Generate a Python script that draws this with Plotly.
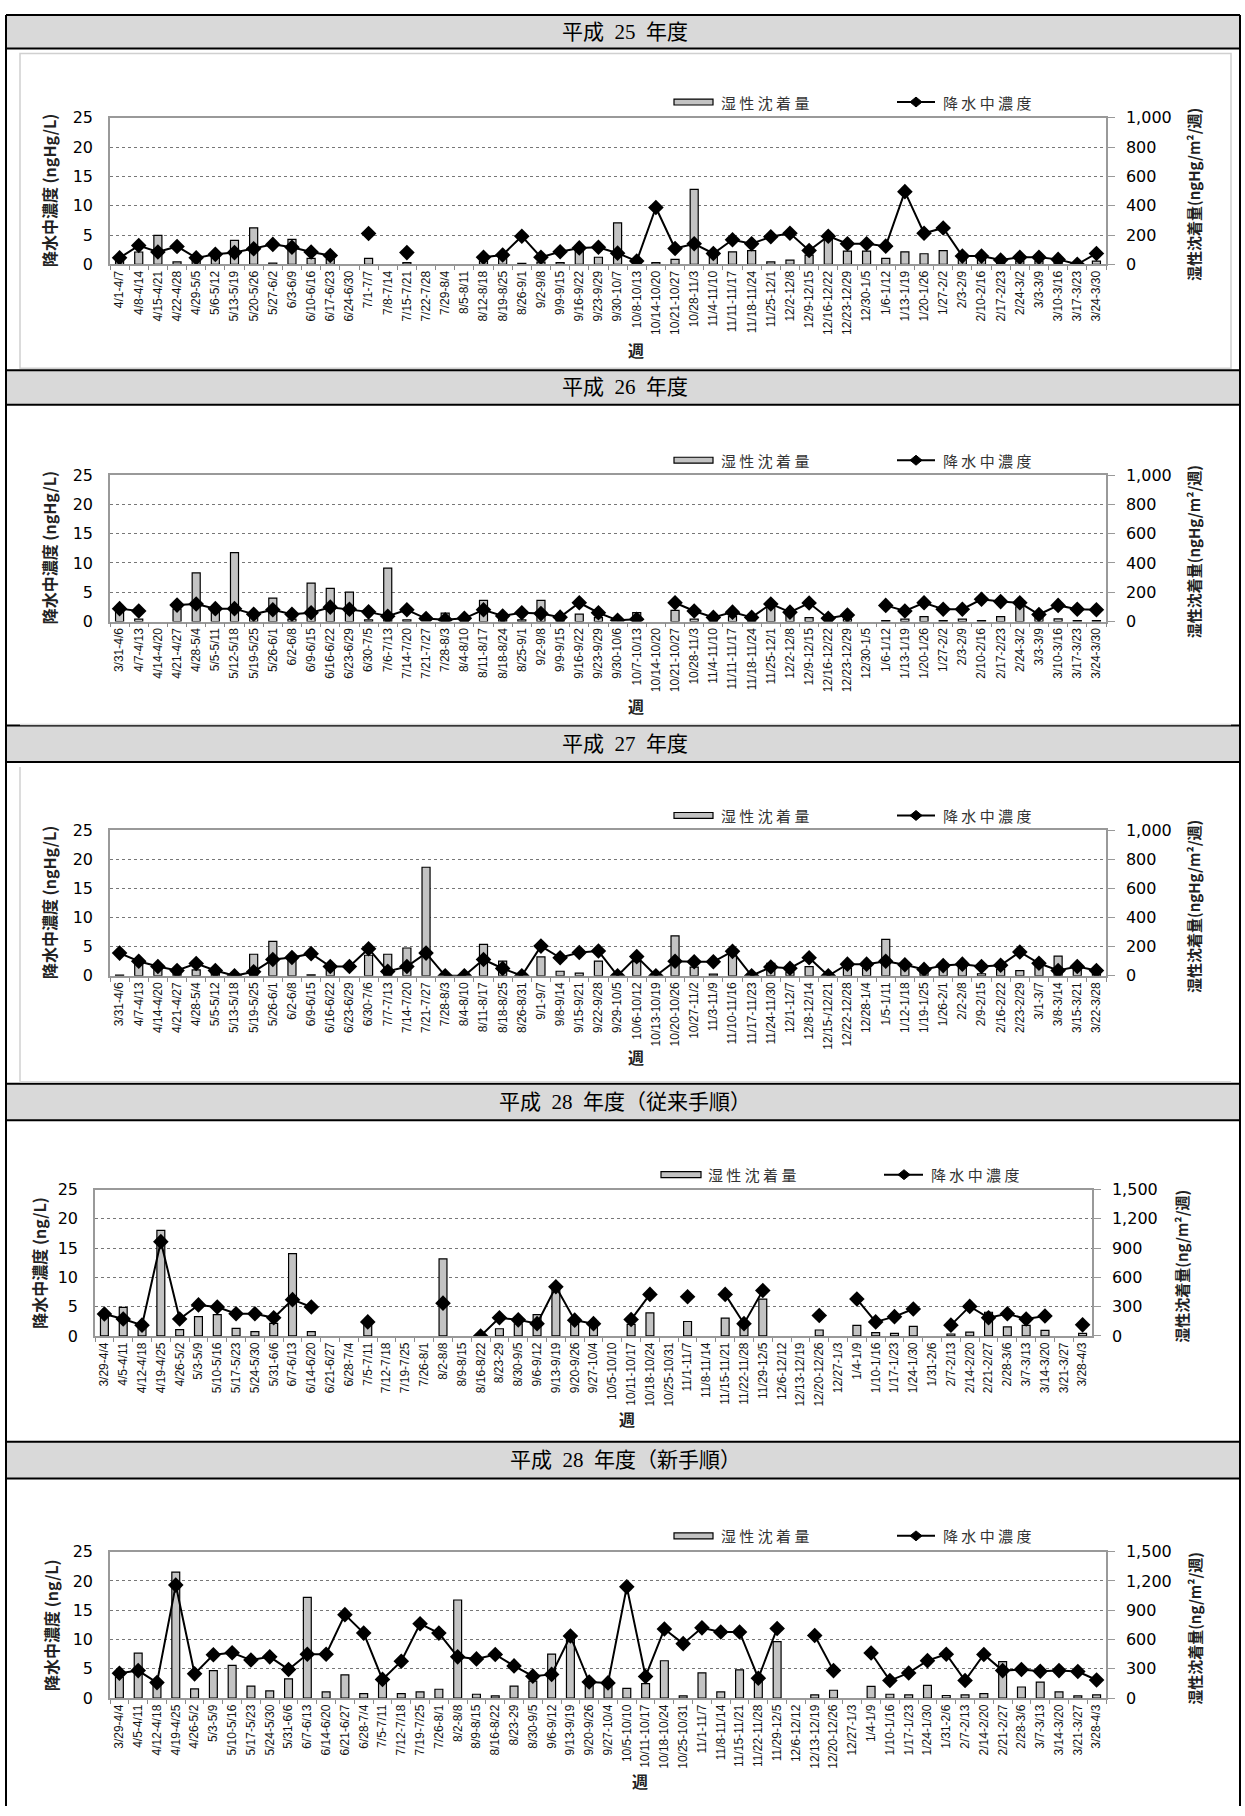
import plotly.graph_objects as go

W, H = 1245, 1816

# ---------------- data ----------------
weeks_h25 = ["4/1-4/7", "4/8-4/14", "4/15-4/21", "4/22-4/28", "4/29-5/5", "5/6-5/12", "5/13-5/19", "5/20-5/26",
             "5/27-6/2", "6/3-6/9", "6/10-6/16", "6/17-6/23", "6/24-6/30", "7/1-7/7", "7/8-7/14", "7/15-7/21",
             "7/22-7/28", "7/29-8/4", "8/5-8/11", "8/12-8/18", "8/19-8/25", "8/26-9/1", "9/2-9/8", "9/9-9/15",
             "9/16-9/22", "9/23-9/29", "9/30-10/7", "10/8-10/13", "10/14-10/20", "10/21-10/27", "10/28-11/3",
             "11/4-11/10", "11/11-11/17", "11/18-11/24", "11/25-12/1", "12/2-12/8", "12/9-12/15", "12/16-12/22",
             "12/23-12/29", "12/30-1/5", "1/6-1/12", "1/13-1/19", "1/20-1/26", "1/27-2/2", "2/3-2/9", "2/10-2/16",
             "2/17-2/23", "2/24-3/2", "3/3-3/9", "3/10-3/16", "3/17-3/23", "3/24-3/30"]
conc_h25 = [1.1, 3.2, 2.1, 3.05, 1.1, 1.7, 2.0, 2.65, 3.4, 2.9, 2.1, 1.5, None, 5.25, None, 2.0, None, None, None,
            1.2, 1.6, 4.8, 1.2, 2.15, 2.8, 2.9, 1.9, 0.55, 9.7, 2.7, 3.5, 1.85, 4.2, 3.5, 4.7, 5.3, 2.35, 4.8, 3.5,
            3.5, 3.1, 12.4, 5.3, 6.2, 1.4, 1.4, 0.73, 1.2, 1.2, 0.84, 0.0, 1.85]
dep_h25 = [35, 84, 197, 16, 23, 45, 163, 249, 9, 170, 41, 34, None, 41, None, 11, None, None, None, 22, 52, 6, 15,
           11, 112, 48, 283, 4, 11, 34, 512, 56, 85, 94, 16, 29, 63, 180, 90, 90, 40, 85, 72, 94, 34, 34, 11, 22, 22,
           11, 2, 22]

weeks_h26 = ["3/31-4/6", "4/7-4/13", "4/14-4/20", "4/21-4/27", "4/28-5/4", "5/5-5/11", "5/12-5/18", "5/19-5/25",
             "5/26-6/1", "6/2-6/8", "6/9-6/15", "6/16-6/22", "6/23-6/29", "6/30-7/5", "7/6-7/13", "7/14-7/20",
             "7/21-7/27", "7/28-8/3", "8/4-8/10", "8/11-8/17", "8/18-8/24", "8/25-9/1", "9/2-9/8", "9/9-9/15",
             "9/16-9/22", "9/23-9/29", "9/30-10/6", "10/7-10/13", "10/14-10/20", "10/21-10/27", "10/28-11/3",
             "11/4-11/10", "11/11-11/17", "11/18-11/24", "11/25-12/1", "12/2-12/8", "12/9-12/15", "12/16-12/22",
             "12/23-12/29", "12/30-1/5", "1/6-1/12", "1/13-1/19", "1/20-1/26", "1/27-2/2", "2/3-2/9", "2/10-2/16",
             "2/17-2/23", "2/24-3/2", "3/3-3/9", "3/10-3/16", "3/17-3/23", "3/24-3/30"]
conc_h26 = [2.2, 1.8, None, 2.8, 3.0, 2.2, 2.2, 1.25, 2.0, 1.25, 1.5, 2.45, 2.1, 1.65, 0.9, 2.0, 0.5, 0.3, 0.55,
            2.0, 0.95, 1.5, 1.35, 0.75, 3.2, 1.5, 0.2, 0.4, None, 3.2, 1.8, 0.7, 1.6, 0.7, 3.0, 1.6, 3.15, 0.56,
            1.1, None, 2.75, 1.8, 3.2, 2.1, 2.1, 3.8, 3.4, 3.2, 1.2, 2.75, 2.1, 2.0]
dep_h26 = [72, 16, None, 84, 332, 84, 470, 38, 160, 16, 262, 226, 201, 11, 364, 11, None, 57, 3, 145, 16, 11, 145,
           11, 50, 27, None, 61, None, 76, 16, 27, 34, 3, 101, 54, 27, 11, 16, None, 7, 16, 34, 7, 16, 7, 34, 101,
           27, 18, 7, 7]

weeks_h27 = ["3/31-4/6", "4/7-4/13", "4/14-4/20", "4/21-4/27", "4/28-5/4", "5/5-5/12", "5/13-5/18", "5/19-5/25",
             "5/26-6/1", "6/2-6/8", "6/9-6/15", "6/16-6/22", "6/23-6/29", "6/30-7/6", "7/7-7/13", "7/14-7/20",
             "7/21-7/27", "7/28-8/3", "8/4-8/10", "8/11-8/17", "8/18-8/25", "8/26-8/31", "9/1-9/7", "9/8-9/14",
             "9/15-9/21", "9/22-9/28", "9/29-10/5", "10/6-10/12", "10/13-10/19", "10/20-10/26", "10/27-11/2",
             "11/3-11/9", "11/10-11/16", "11/17-11/23", "11/24-11/30", "12/1-12/7", "12/8-12/14", "12/15-/12/21",
             "12/22-12/28", "12/28-1/4", "1/5-1/11", "1/12-1/18", "1/19-1/25", "1/26-2/1", "2/2-2/8", "2/9-2/15",
             "2/16-2/22", "2/23-2/29", "3/1-3/7", "3/8-3/14", "3/15-3/21", "3/22-3/28"]
conc_h27 = [3.9, 2.5, 1.6, 0.9, 2.1, 0.9, 0.0, 0.7, 2.8, 3.15, 3.8, 1.6, 1.6, 4.65, 0.75, 1.6, 3.9, 0.0, 0.0, 2.8,
            1.25, 0.0, 5.1, 3.1, 4.0, 4.25, 0.0, 3.3, 0.0, 2.5, 2.4, 2.4, 4.2, 0.0, 1.5, 1.3, 3.1, 0.0, 2.0, 2.0,
            2.5, 1.9, 1.1, 1.75, 2.0, 1.6, 1.8, 4.1, 2.15, 0.9, 1.6, 0.9]
dep_h27 = [4, 108, 45, 14, 40, 18, None, 148, 236, 112, 7, 45, None, 141, 148, 191, 746, None, None, 216, 101, None,
           130, 31, 18, 101, None, 97, None, 275, 59, 11, 187, None, 86, 25, 63, None, 52, 52, 250, 63, 25, 56, 63,
           14, 45, 36, 63, 135, 41, 18]

weeks_h28 = ["3/29-4/4", "4/5-4/11", "4/12-4/18", "4/19-4/25", "4/26-5/2", "5/3-5/9", "5/10-5/16", "5/17-5/23",
             "5/24-5/30", "5/31-6/6", "6/7-6/13", "6/14-6/20", "6/21-6/27", "6/28-7/4", "7/5-7/11", "7/12-7/18",
             "7/19-7/25", "7/26-8/1", "8/2-8/8", "8/9-8/15", "8/16-8/22", "8/23-29", "8/30-9/5", "9/6-9/12",
             "9/13-9/19", "9/20-9/26", "9/27-10/4", "10/5-10/10", "10/11-10/17", "10/18-10/24", "10/25-10/31",
             "11/1-11/7", "11/8-11/14", "11/15-11/21", "11/22-11/28", "11/29-12/5", "12/6-12/12", "12/13-12/19",
             "12/20-12/26", "12/27-1/3", "1/4-1/9", "1/10-1/16", "1/17-1/23", "1/24-1/30", "1/31-2/6", "2/7-2/13",
             "2/14-2/20", "2/21-2/27", "2/28-3/6", "3/7-3/13", "3/14-3/20", "3/21-3/27", "3/28-4/3"]
conc_h28_old = [3.75, 2.9, 1.85, 16.1, 2.9, 5.3, 4.95, 3.8, 3.8, 3.1, 6.2, 4.95, None, None, 2.4, None, None, None,
                5.6, None, 0.0, 3.1, 2.75, 2.1, 8.4, 2.7, 2.1, None, 2.8, 7.1, None, 6.7, None, 7.1, 2.1, 7.75,
                None, None, 3.5, None, 6.3, 2.4, 3.3, 4.6, None, 1.85, 5.05, 3.1, 3.8, 2.9, 3.4, None, 1.9]
dep_h28_old = [192, 293, 91, 1082, 64, 199, 219, 78, 44, 128, 843, 44, None, None, 118, None, None, None, 789, None,
               None, 74, 125, 219, 472, 125, 101, None, 118, 236, None, 148, None, 182, 118, 378, None, None, 61,
               None, 108, 34, 27, 98, None, 20, 40, 243, 94, 108, 57, None, 27]
conc_h28_new = [4.25, 4.7, 2.65, 19.3, 4.15, 7.4, 7.75, 6.5, 7.05, 4.9, 7.5, 7.5, 14.25, 11.1, 3.2, 6.3, 12.7, 11.1,
                7.05, 6.7, 7.45, 5.5, 3.75, 4.05, 10.6, 2.75, 2.6, 19.0, 3.7, 11.8, 9.3, 12.0, 11.3, 11.3, 3.4, 11.9,
                None, 10.7, 4.7, None, 7.7, 3.0, 4.3, 6.4, 7.5, 3.0, 7.45, 4.7, 4.9, 4.6, 4.7, 4.55, 3.1]
dep_h28_new = [215, 461, 148, 1291, 94, 282, 336, 124, 74, 198, 1032, 64, 239, 47, 158, 47, 64, 91, 1005, 40, 24,
               124, 175, 451, 609, 148, 148, 101, 148, 383, 24, 259, 64, 289, 188, 578, None, 34, 81, None, 121, 40,
               34, 131, 27, 34, 47, 373, 114, 165, 64, 24, 34]

titles = ["平成\u200225\u2002年度", "平成\u200226\u2002年度", "平成\u200227\u2002年度",
          "平成\u200228\u2002年度（従来手順）", "平成\u200228\u2002年度（新手順）"]
legend_bar = "湿 性 沈 着 量"
legend_line = "降 水 中 濃 度"
ytitle_hg = "降水中濃度 (ngHg/L)"
y2title_hg = "湿性沈着量(ngHg/m²/週)"
ytitle_ng = "降水中濃度 (ng/L)"
y2title_ng = "湿性沈着量(ng/m²/週)"
xtitle = "週"

# ---------------- layout helpers (pixels) ----------------
def px(x):
    return x / W

def py(y):
    return 1 - y / H

panels = [
    dict(weeks=weeks_h25, conc=conc_h25, dep=dep_h25, y2max=1000, y2dtick=200, yt=ytitle_hg, y2t=y2title_hg,
         box=(110, 1106, 110, 258), head=(6, 40), leg_y=94, leg_x=(674, 713, 719, 897, 935, 916, 941),
         ytx=49, y2tx=1193, wk=(636, 345)),
    dict(weeks=weeks_h26, conc=conc_h26, dep=dep_h26, y2max=1000, y2dtick=200, yt=ytitle_hg, y2t=y2title_hg,
         box=(110, 1106, 471, 619), head=(365, 400), leg_y=456, leg_x=(674, 713, 719, 897, 935, 916, 941),
         ytx=49, y2tx=1193, wk=(636, 704)),
    dict(weeks=weeks_h27, conc=conc_h27, dep=dep_h27, y2max=1000, y2dtick=200, yt=ytitle_hg, y2t=y2title_hg,
         box=(110, 1106, 830, 977), head=(724, 761), leg_y=815, leg_x=(674, 713, 719, 897, 935, 916, 941),
         ytx=49, y2tx=1193, wk=(636, 1059)),
    dict(weeks=weeks_h28, conc=conc_h28_old, dep=dep_h28_old, y2max=1500, y2dtick=300, yt=ytitle_ng, y2t=y2title_ng,
         box=(95, 1092, 1193, 1341), head=(1086, 1123), leg_y=1178, leg_x=(661, 701, 706, 884, 923, 904, 929),
         ytx=39, y2tx=1182, wk=(627, 1425)),
    dict(weeks=weeks_h28, conc=conc_h28_new, dep=dep_h28_new, y2max=1500, y2dtick=300, yt=ytitle_ng, y2t=y2title_ng,
         box=(110, 1106, 1559, 1707), head=(1448, 1485), leg_y=1543, leg_x=(674, 713, 719, 897, 935, 916, 941),
         ytx=51, y2tx=1195, wk=(640, 1791)),
]

fig = go.Figure()
layout = dict(width=W, height=H, margin=dict(l=0, r=0, t=0, b=0), paper_bgcolor="white",
              plot_bgcolor="white", showlegend=False)
shapes = []
annotations = []

tickfont_y = dict(family="DejaVu Sans", size=16, color="#000")
tickfont_x = dict(family="Liberation Sans", size=12, color="#111")
cjk = "Noto Sans CJK JP"

for i, p in enumerate(panels, start=1):
    xs = "" if i == 1 else str(i)
    xid = "x" + xs
    ybase = "y" + xs           # right axis, bars (base layer)
    yov = "y" + str(i + 5)     # left axis, line (overlay layer, drawn on top)
    L, R, T, B = p["box"]
    n = len(p["weeks"])

    fig.add_trace(go.Bar(x=p["weeks"], y=p["dep"], xaxis=xid, yaxis=ybase, width=0.42,
                         marker=dict(color="#c3c3c3", line=dict(color="#000", width=1.2)),
                         name="湿性沈着量"))
    fig.add_trace(go.Scatter(x=p["weeks"], y=p["conc"], xaxis=xid, yaxis=yov, mode="lines+markers",
                             connectgaps=False, line=dict(color="#000", width=2),
                             marker=dict(symbol="diamond", size=12, color="#000"), name="降水中濃度"))

    layout["xaxis" + xs] = dict(domain=[px(L), px(R)], anchor=ybase, type="category",
                                categoryorder="array", categoryarray=p["weeks"], range=[-0.5, n - 0.5],
                                tickangle=-90, tickfont=tickfont_x, ticks="outside", ticklen=4,
                                tickcolor="#888", tickson="boundaries", showline=True, linecolor="#999",
                                linewidth=1.5, mirror=True, showgrid=False, fixedrange=True)
    layout["yaxis" + xs] = dict(domain=[py(B), py(T)], anchor=xid, side="right", range=[0, p["y2max"]],
                                dtick=p["y2dtick"], tickformat=",", tickfont=tickfont_y, ticks="outside",
                                ticklen=7, tickcolor="#999", ticklabelstandoff=8, showgrid=True,
                                gridcolor="#777", griddash="dot", gridwidth=1, showline=True,
                                linecolor="#999", linewidth=1.5, mirror=True, zeroline=False, fixedrange=True)
    layout["yaxis" + str(i + 5)] = dict(overlaying=ybase, anchor=xid, side="left", range=[0, 25], dtick=5,
                                        tickfont=tickfont_y, ticks="", ticklabelstandoff=16, showgrid=False,
                                        showline=False, zeroline=False, fixedrange=True)

    # header band
    h0, h1 = p["head"]
    shapes.append(dict(type="rect", xref="paper", yref="paper", x0=px(6), x1=px(1240), y0=py(h1), y1=py(h0),
                       fillcolor="#d9d9d9", line=dict(width=0), layer="below"))
    for hy in (h0, h1):
        shapes.append(dict(type="line", xref="paper", yref="paper", x0=px(6), x1=px(1240), y0=py(hy), y1=py(hy),
                           line=dict(color="#000", width=2)))
    annotations.append(dict(text=titles[i - 1], xref="paper", yref="paper", x=px(625), y=py((h0 + h1) / 2),
                            xanchor="center", yanchor="middle", showarrow=False,
                            font=dict(family="Liberation Serif, " + cjk, size=21, color="#000")))

    # legend (drawn)
    ly = p["leg_y"]
    rx0, rx1, tx1, lx0, lx1, dx, tx2 = p["leg_x"]
    shapes.append(dict(type="rect", xref="paper", yref="paper", x0=px(rx0), x1=px(rx1), y0=py(ly + 3),
                       y1=py(ly - 3), fillcolor="#c3c3c3", line=dict(color="#000", width=1.2)))
    shapes.append(dict(type="line", xref="paper", yref="paper", x0=px(lx0), x1=px(lx1), y0=py(ly), y1=py(ly),
                       line=dict(color="#000", width=2)))
    shapes.append(dict(type="path", xref="paper", yref="paper",
                       path="M {a},{b} L {c},{d} L {e},{b} L {c},{f} Z".format(
                           a=px(dx - 6), b=py(ly), c=px(dx), d=py(ly - 5), e=px(dx + 6), f=py(ly + 5)),
                       fillcolor="#000", line=dict(color="#000", width=1)))
    annotations.append(dict(text=legend_bar, xref="paper", yref="paper", x=px(tx1), y=py(ly), xanchor="left",
                            yanchor="middle", showarrow=False, font=dict(family=cjk, size=15, color="#333")))
    annotations.append(dict(text=legend_line, xref="paper", yref="paper", x=px(tx2), y=py(ly), xanchor="left",
                            yanchor="middle", showarrow=False, font=dict(family=cjk, size=15, color="#333")))

    # axis titles
    yc = (T + B) / 2
    annotations.append(dict(text="<b>" + p["yt"] + "</b>", xref="paper", yref="paper", x=px(p["ytx"]), y=py(yc),
                            xanchor="center", yanchor="middle", textangle=-90, showarrow=False,
                            font=dict(family=cjk, size=16, color="#222")))
    annotations.append(dict(text="<b>" + p["y2t"] + "</b>", xref="paper", yref="paper", x=px(p["y2tx"]),
                            y=py(yc + 4), xanchor="center", yanchor="middle", textangle=-90, showarrow=False,
                            font=dict(family=cjk, size=15, color="#222")))
    wx, wy = p["wk"]
    annotations.append(dict(text="<b>" + xtitle + "</b>", xref="paper", yref="paper", x=px(wx), y=py(wy),
                            xanchor="center", yanchor="middle", showarrow=False,
                            font=dict(family=cjk, size=16, color="#222")))

# chart-area light frames (upper three panels)
shapes.append(dict(type="rect", xref="paper", yref="paper", x0=px(20), x1=px(1231), y0=py(363), y1=py(45),
                   line=dict(color="#d0d0d0", width=1.5)))
shapes.append(dict(type="line", xref="paper", yref="paper", x0=px(20), x1=px(1231), y0=py(723), y1=py(723),
                   line=dict(color="#d8d8d8", width=1.5)))
shapes.append(dict(type="line", xref="paper", yref="paper", x0=px(20), x1=px(20), y0=py(1084), y1=py(766),
                   line=dict(color="#d0d0d0", width=1.5)))
shapes.append(dict(type="line", xref="paper", yref="paper", x0=px(20), x1=px(1231), y0=py(1084), y1=py(1084),
                   line=dict(color="#d8d8d8", width=1.5)))

# outer table borders
for bx in (6, 1240):
    shapes.append(dict(type="line", xref="paper", yref="paper", x0=px(bx), x1=px(bx), y0=py(1816), y1=py(6),
                       line=dict(color="#000", width=2)))

layout["shapes"] = shapes
layout["annotations"] = annotations
fig.update_layout(**layout)
fig.write_html("out.html")
